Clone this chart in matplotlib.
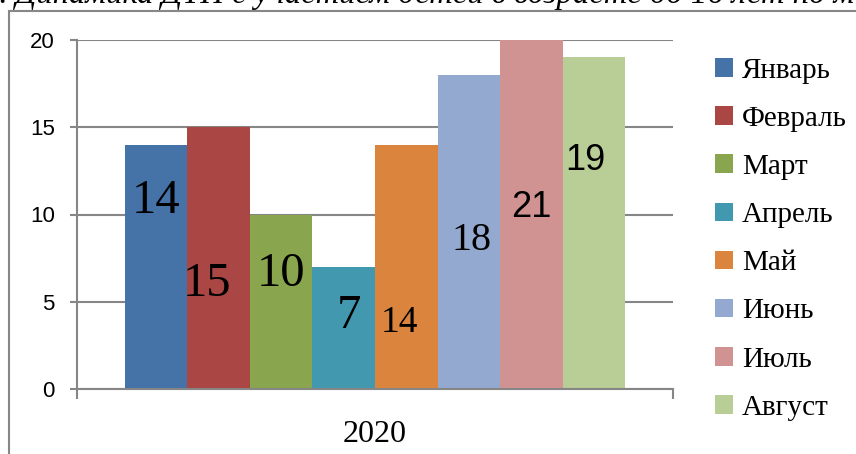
import numpy as np
import matplotlib.pyplot as plt
from matplotlib.patches import Rectangle

months = ["Январь", "Февраль", "Март", "Апрель", "Май", "Июнь", "Июль", "Август"]
values = [14, 15, 10, 7, 14, 18, 21, 19]
year = "2020"
colors = ["#4572A7", "#AA4643", "#89A54E", "#4198AF",
          "#DB843D", "#93A9CF", "#D19392", "#B9CD96"]

# label placement (as Excel left it): height in data units, x shift in px
label_y = [10.8, 6.0, 6.6, 4.2, 3.8, 8.5, 10.4, 13.1]
label_dx = [0, -12, 0, 5, -7, 3, 0, -9]
label_size = [35, 35, 35, 35, 27, 29, 26, 26]
label_font = ["serif"] * 6 + ["sans"] * 2

serif = "Liberation Serif"
sans = "Liberation Sans"
grey = "#868686"

fig = plt.figure(figsize=(8.56, 4.54), dpi=100)
ax = fig.add_axes([77 / 856, 65 / 454, 596 / 856, 349 / 454])

n = len(values)
w = 0.84 / n
xs = -0.42 + w * (np.arange(n) + 0.5)
bars = ax.bar(xs, values, width=w, color=colors, zorder=2)
for b, m in zip(bars, months):
    b.set_label(m)

px = 1 / 596  # one pixel in category units
for x, v, ly, dx, fs, ff in zip(xs, values, label_y, label_dx, label_size, label_font):
    ax.text(x + dx * px, ly, str(v), ha="center", va="center", fontsize=fs,
            family=serif if ff == "serif" else sans, zorder=3)

ax.set_xlim(-0.5, 0.5)
ax.set_ylim(0, 20)
ax.set_yticks([0, 5, 10, 15, 20])
ax.yaxis.grid(True, color=grey, lw=1.5, zorder=0)
ax.set_axisbelow(True)
for s in ["top", "right"]:
    ax.spines[s].set_visible(False)
for s in ["left", "bottom"]:
    ax.spines[s].set_color(grey)
    ax.spines[s].set_linewidth(1.5)
ax.tick_params(axis="y", length=5, width=1.5, color=grey, labelsize=16, pad=11)
for t in ax.get_yticklabels():
    t.set_family(sans)
ax.set_xticks([0])
ax.set_xticklabels([year], fontsize=23, family=serif)
ax.tick_params(axis="x", which="major", length=0, pad=22)
ax.set_xticks([-0.5, 0.5], minor=True)
ax.tick_params(axis="x", which="minor", length=7, width=1.5, color=grey)

ax.legend(handles=list(bars), loc="upper left", bbox_to_anchor=(1.037, 1.008),
          frameon=False, prop={"family": serif, "size": 21},
          handlelength=0.6, handleheight=0.6, handletextpad=0.3,
          labelspacing=0.76, borderaxespad=0.3)

# outer chart border, cut by the page
fig.patches.append(Rectangle((9 / 856, -0.2), 1.2, 1.2 - 11 / 454,
                             transform=fig.transFigure, fill=False,
                             edgecolor="#878787", lw=1.5, zorder=5))

fig.text(-0.02, 1 - 3 / 454, "1. Динамика ДТП с участием детей в возрасте до 16 лет по месяцам",
         family=serif, style="italic", fontsize=23.5, ha="left", va="baseline")

fig.savefig("out.png", dpi=100)
